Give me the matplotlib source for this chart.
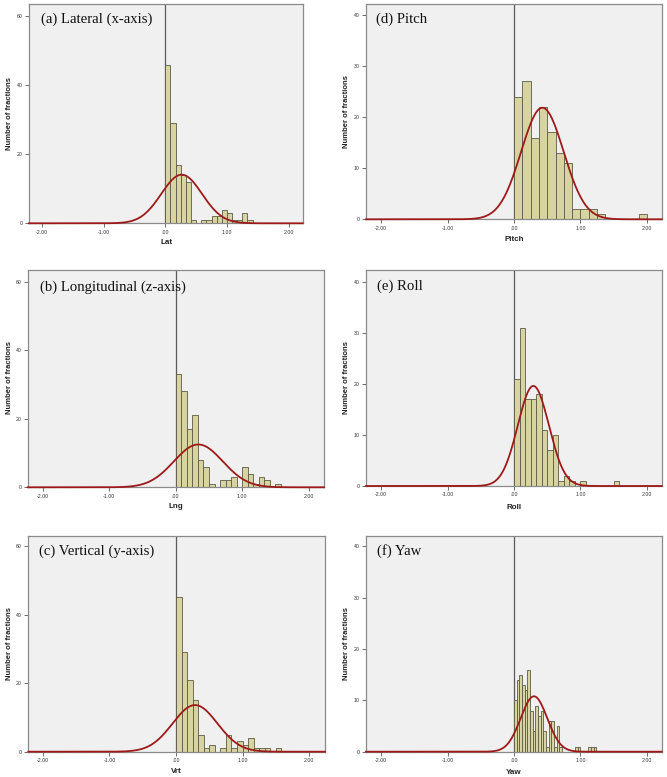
import numpy as np
import matplotlib
matplotlib.use("Agg")
import matplotlib.pyplot as plt

# ---------------- data ----------------
panel_titles = ["(a) Lateral (x-axis)", "(b) Longitudinal (z-axis)", "(c) Vertical (y-axis)",
                "(d) Pitch", "(e) Roll", "(f) Yaw"]
x_labels = ["Lat", "Lng", "Vrt", "Pitch", "Roll", "Yaw"]

lat_counts = [46, 29, 17, 14, 12, 1, 0, 1, 1, 2, 2, 4, 3, 1, 1, 3, 1]
lng_counts = [33, 28, 17, 21, 8, 6, 1, 0, 2, 2, 3, 0, 6, 4, 1, 3, 2, 0, 1]
vrt_counts = [45, 29, 21, 15, 5, 1, 2, 0, 1, 5, 1, 3, 2, 4, 1, 1, 1, 0, 1]
pitch_counts = [24, 27, 16, 22, 17, 13, 11, 2, 2, 2, 1, 0, 0, 0, 0, 1]
roll_counts = [21, 31, 17, 17, 18, 11, 7, 10, 1, 2, 1, 0, 1, 0, 0, 0, 0, 0, 1]
yaw_counts = [10, 14, 15, 13, 12, 16, 8, 4, 9, 7, 8, 4, 1, 6, 6, 1, 5, 1, 0, 0,
              0, 0, 0, 1, 1, 0, 0, 0, 1, 1, 1]

bin_widths = [1 / 12, 1 / 12, 1 / 12, 0.125, 1 / 12, 0.04]

# fitted normal curves: mean, sd, peak height
curve_means = [0.265, 0.34, 0.286, 0.427, 0.291, 0.30]
curve_sds = [0.33, 0.367, 0.337, 0.32, 0.234, 0.20]
curve_peaks = [14.1, 12.5, 13.6, 21.85, 19.6, 10.8]

x_ticks = [-2, -1, 0, 1, 2]
x_tick_labels = ["-2.00", "-1.00", ".00", "1.00", "2.00"]
y_ticks_trans = [0, 20, 40, 60]
y_ticks_rot = [0, 10, 20, 30, 40]

all_counts = [lat_counts, lng_counts, vrt_counts, pitch_counts, roll_counts, yaw_counts]

# ---------------- layout (pixels) ----------------
W, H = 667, 777
# left, right, top, bottom of each plot frame
frames = [(29, 302.7, 4.3, 223.3), (27.7, 324, 270, 487.3), (28.3, 325, 535.7, 751.7),
          (366, 661.7, 4.3, 219.3), (366, 661.7, 270, 486), (366, 661.7, 535.7, 751.7)]
xlims = [(-2.213, 2.23), (-2.226, 2.23), (-2.22, 2.24),
         (-2.228, 2.223), (-2.228, 2.223), (-2.228, 2.223)]
ytops = [63.5, 63.4, 63.0, 42.1, 42.3, 42.1]
title_pos = [(40.7, 19.3), (40, 287.3), (39.3, 551.7), (376, 19.3), (376.7, 286.7), (376.7, 551)]
xlabel_pos = [(167, 243), (176, 507), (176, 771.5), (514, 239.5), (514, 507.3), (514, 772)]
ylabel_pos = [(10, 114), (9.5, 378), (9.5, 643), (346, 112), (346, 377), (346, 643)]

bar_face = "#d8d4a2"
bar_edge = "#5b5a44"
curve_color = "#9e1a1a"
bg = "#f0f0f0"
frame_color = "#8a8a8a"

fig = plt.figure(figsize=(W / 100, H / 100), dpi=100)
fig.patch.set_facecolor("white")

for i in range(6):
    l, r, t, b = frames[i]
    ax = fig.add_axes([l / W, 1 - b / H, (r - l) / W, (b - t) / H])
    ax.set_facecolor(bg)
    counts = np.array(all_counts[i])
    bw = bin_widths[i]
    edges = np.arange(len(counts)) * bw
    ax.bar(edges, counts, width=bw, align="edge", color=bar_face,
           edgecolor=bar_edge, linewidth=0.6, zorder=2)
    ax.axvline(0, color="#5a5a5a", lw=0.9, zorder=1)
    xs = np.linspace(xlims[i][0], xlims[i][1], 600)
    ys = curve_peaks[i] * np.exp(-0.5 * ((xs - curve_means[i]) / curve_sds[i]) ** 2)
    ax.plot(xs, ys, color=curve_color, lw=1.3, zorder=3, clip_on=False)
    ax.set_xlim(*xlims[i])
    ax.set_ylim(0, ytops[i])
    ax.set_xticks(x_ticks)
    ax.set_xticklabels(x_tick_labels)
    yt = y_ticks_trans if i < 3 else y_ticks_rot
    ax.set_yticks(yt)
    ax.set_yticklabels([str(v) for v in yt])
    for s in ax.spines.values():
        s.set_color(frame_color)
        s.set_linewidth(0.9)
    ax.tick_params(length=3, width=0.6, color="#555555", labelsize=3.8,
                   labelcolor="#333333", pad=1.5)
    for lab in ax.get_xticklabels() + ax.get_yticklabels():
        lab.set_family("Liberation Sans")

    tx, ty = title_pos[i]
    fig.text(tx / W, 1 - ty / H, panel_titles[i], family="Liberation Serif",
             fontsize=10.6, ha="left", va="center", color="#111111")
    xx, xy = xlabel_pos[i]
    fig.text(xx / W, 1 - xy / H, x_labels[i], family="Liberation Sans", weight="bold",
             fontsize=5.8, ha="center", va="center", color="#222222")
    yx, yy = ylabel_pos[i]
    fig.text(yx / W, 1 - yy / H, "Number of fractions", family="Liberation Sans",
             weight="bold", fontsize=5.5, rotation=90, ha="center", va="center",
             color="#222222")

fig.savefig("out.png", dpi=100, facecolor="white")
